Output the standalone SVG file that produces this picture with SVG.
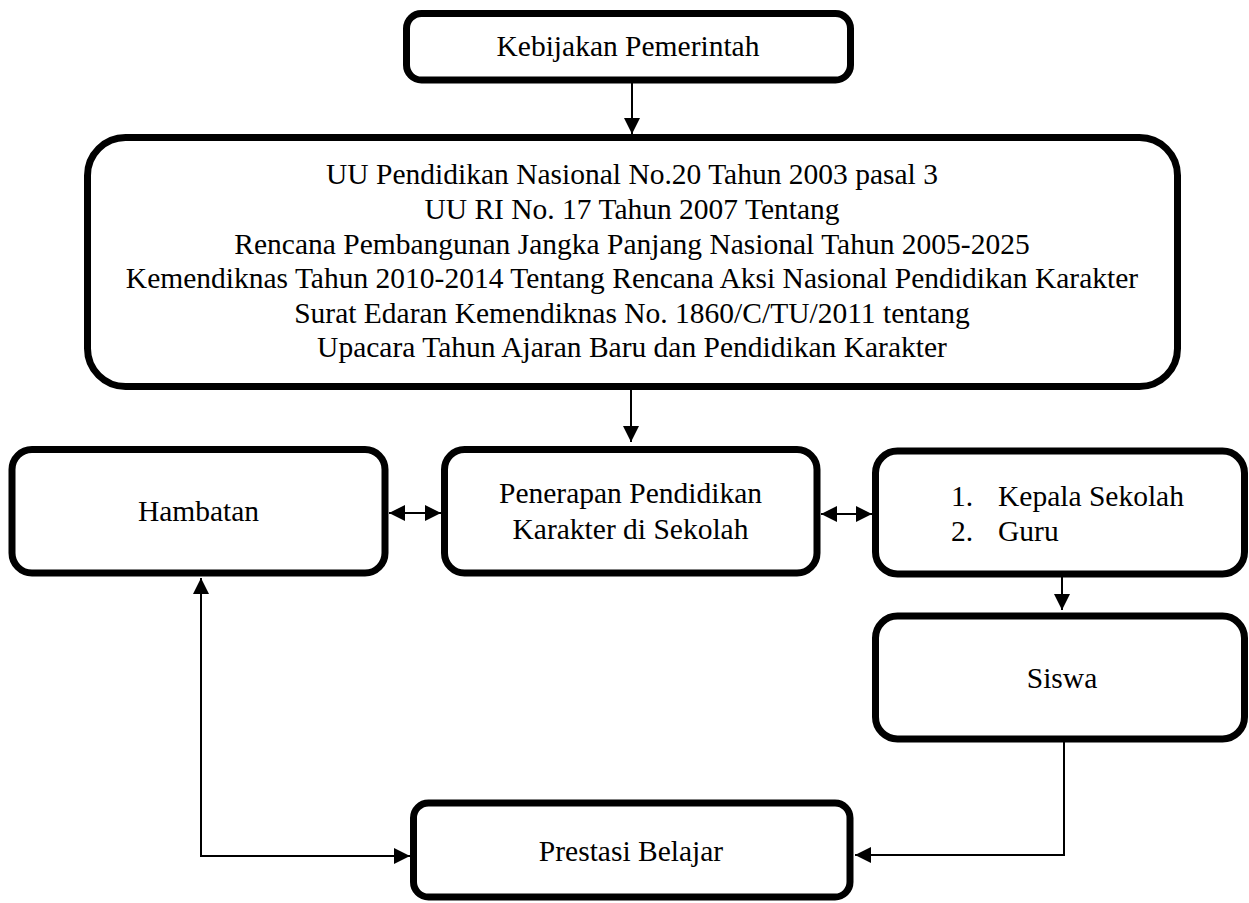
<svg xmlns="http://www.w3.org/2000/svg" width="1249" height="903" viewBox="0 0 1249 903">
<style>
.box{fill:#fff;stroke:#000;stroke-width:7}
.t{font-family:"Liberation Serif","Times New Roman",serif;font-size:29.5px;fill:#000}
.c{text-anchor:middle}
.ln{fill:none;stroke:#000;stroke-width:2}
</style>
<defs>
<marker id="ah" viewBox="0 0 16 16" refX="16" refY="8" markerWidth="16" markerHeight="16" markerUnits="userSpaceOnUse" orient="auto-start-reverse">
<path d="M0,0 L16,8 L0,16 z" fill="#000"/>
</marker>
</defs>
<rect width="1249" height="903" fill="#fff"/>
<g id="connectors">
<path class="ln" d="M632,83 L632,134" marker-end="url(#ah)"/>
<path class="ln" d="M631,390 L631,442" marker-end="url(#ah)"/>
<path class="ln" d="M389,513 L441,513" marker-start="url(#ah)" marker-end="url(#ah)"/>
<path class="ln" d="M821,514 L872,514" marker-start="url(#ah)" marker-end="url(#ah)"/>
<path class="ln" d="M1062,577 L1062,610" marker-end="url(#ah)"/>
<path class="ln" d="M1064,742 L1064,855 L855,855" marker-end="url(#ah)"/>
<path class="ln" d="M201,578 L201,856 L410,856" marker-start="url(#ah)" marker-end="url(#ah)"/>
</g>
<g id="kebijakan">
<rect class="box" x="406.5" y="13.5" width="444" height="66.5" rx="15"/>
<text class="t c" x="628" y="56">Kebijakan Pemerintah</text>
</g>
<g id="undang">
<rect class="box" x="87.5" y="137.5" width="1090" height="249" rx="38"/>
<text class="t c" x="632" y="184">UU Pendidikan Nasional No.20 Tahun 2003 pasal 3</text>
<text class="t c" x="632" y="219">UU RI No. 17 Tahun 2007 Tentang</text>
<text class="t c" x="632" y="253.5">Rencana Pembangunan Jangka Panjang Nasional Tahun 2005-2025</text>
<text class="t c" x="632" y="288">Kemendiknas Tahun 2010-2014 Tentang Rencana Aksi Nasional Pendidikan Karakter</text>
<text class="t c" x="632" y="322.5">Surat Edaran Kemendiknas No. 1860/C/TU/2011 tentang</text>
<text class="t c" x="632" y="357">Upacara Tahun Ajaran Baru dan Pendidikan Karakter</text>
</g>
<g id="hambatan">
<rect class="box" x="12" y="449.5" width="373" height="123.5" rx="20"/>
<text class="t c" x="198.5" y="521">Hambatan</text>
</g>
<g id="penerapan">
<rect class="box" x="444.5" y="449.5" width="372.5" height="123.5" rx="20"/>
<text class="t c" x="630.5" y="503">Penerapan Pendidikan</text>
<text class="t c" x="630.5" y="539">Karakter di Sekolah</text>
</g>
<g id="kepala">
<rect class="box" x="875.5" y="451" width="369" height="123" rx="22"/>
<text class="t" x="951" y="506">1.</text>
<text class="t" x="998" y="506">Kepala Sekolah</text>
<text class="t" x="951" y="541">2.</text>
<text class="t" x="998" y="541">Guru</text>
</g>
<g id="siswa">
<rect class="box" x="875.5" y="616" width="369" height="123" rx="22"/>
<text class="t c" x="1062" y="688">Siswa</text>
</g>
<g id="prestasi">
<rect class="box" x="413.5" y="803" width="436.5" height="94" rx="15"/>
<text class="t c" x="631" y="861">Prestasi Belajar</text>
</g>
</svg>
